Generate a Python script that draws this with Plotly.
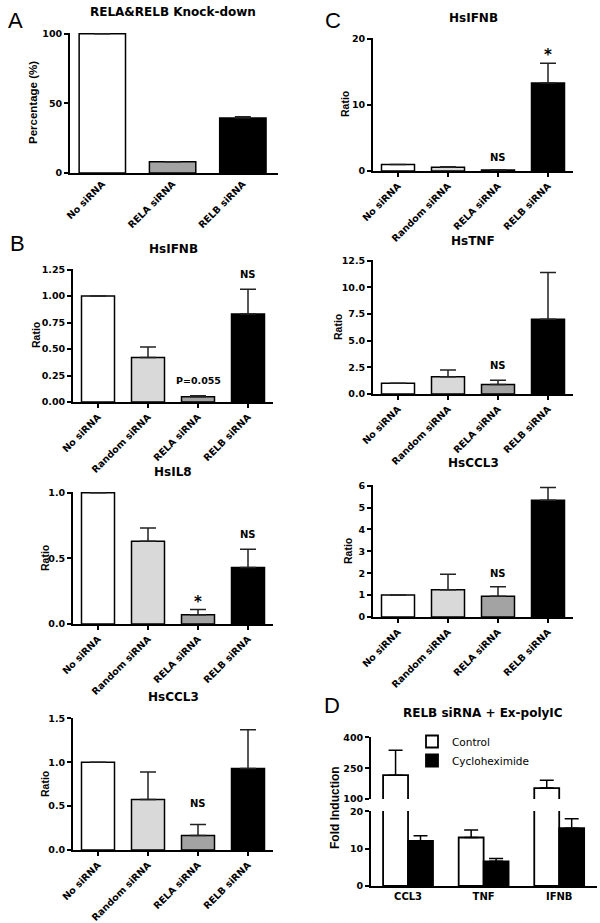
import plotly.graph_objects as go

W, H = 600, 923
FONT = "DejaVu Sans, Liberation Sans, Arial, sans-serif"
NARROW = "Liberation Sans, Arial, sans-serif"

# ---- data ----
kd_cats = ["No siRNA", "RELA siRNA", "RELB siRNA"]
kd_pct = [100, 8, 39.5]
kd_err = [None, None, 0.8]

sirna_cats = ["No siRNA", "Random siRNA", "RELA siRNA", "RELB siRNA"]

b_ifnb = [1.0, 0.42, 0.05, 0.83]
b_ifnb_err = [None, 0.10, 0.01, 0.235]
b_il8 = [1.0, 0.63, 0.07, 0.43]
b_il8_err = [None, 0.10, 0.04, 0.14]
b_ccl3 = [1.0, 0.575, 0.165, 0.93]
b_ccl3_err = [None, 0.315, 0.125, 0.44]

c_ifnb = [1.0, 0.55, 0.15, 13.3]
c_ifnb_err = [None, 0.08, 0.05, 3.0]
c_tnf = [1.0, 1.62, 0.9, 7.0]
c_tnf_err = [None, 0.63, 0.4, 4.4]
c_ccl3 = [1.0, 1.25, 0.95, 5.33]
c_ccl3_err = [None, 0.7, 0.43, 0.59]

d_genes = ["CCL3", "TNF", "IFNB"]
d_control = [216, 13, 153]
d_control_err = [121, 2, 38]
d_cyclo = [12.1, 6.6, 15.5]
d_cyclo_err = [1.4, 0.8, 2.5]

SIRNA_COLORS = ["white", "#d9d9d9", "#a3a3a3", "black"]
KD_COLORS = ["white", "#a3a3a3", "black"]


def dx(a, b):
    return [a / W, b / W]


def dy(top, bottom):
    return [1 - bottom / H, 1 - top / H]


fig = go.Figure()
layout = dict(
    width=W, height=H, margin=dict(l=0, r=0, t=0, b=0, pad=0, autoexpand=False),
    paper_bgcolor="white", plot_bgcolor="white", template="none",
    font=dict(family=FONT, color="black"),
    barmode="group", showlegend=True, bargap=0.34,
    annotations=[],
)


def err(tops):
    return dict(type="data", symmetric=False,
                array=tops,
                arrayminus=[0 if e is not None else None for e in tops],
                color="#222", thickness=1.5, width=8)


def add_panel(n, cats, vals, errs, colors, xpx, ypx, yrange, tickvals, ticktext,
              title, title_xy, xticks=True):
    xa, ya = ("x" if n == 1 else f"x{n}"), ("y" if n == 1 else f"y{n}")
    fig.add_trace(go.Bar(
        x=cats, y=vals, xaxis=xa, yaxis=ya, showlegend=False,
        marker=dict(color=colors, line=dict(color="black", width=1.5)),
        error_y=err(errs),
    ))
    key = "" if n == 1 else str(n)
    layout["xaxis" + key] = dict(
        domain=dx(*xpx), anchor=ya, type="category", range=[-0.5, len(cats) - 0.5],
        showline=True, linecolor="black", linewidth=1.8, showgrid=False, automargin=False,
        ticks="outside" if xticks else "", ticklen=4, tickwidth=1.5, tickcolor="black",
        tickangle=-45, tickfont=dict(size=9.5, weight="bold"),
    )
    layout["yaxis" + key] = dict(
        domain=dy(*ypx), anchor=xa, range=yrange, showline=True, linecolor="black",
        linewidth=1.8, showgrid=False, zeroline=False, ticks="outside", ticklen=4,
        tickwidth=1.5, tickcolor="black", tickvals=tickvals, ticktext=ticktext,
        tickfont=dict(size=9.5, weight="bold"), automargin=False,
    )
    paper_text(title, title_xy[0], title_xy[1], 12, bold=True)


def note(n, x, y, text, size=10):
    xa, ya = ("x" if n == 1 else f"x{n}"), ("y" if n == 1 else f"y{n}")
    layout["annotations"].append(dict(
        text=text, x=x, y=y, xref=xa, yref=ya, showarrow=False,
        font=dict(size=size, weight="bold"), yanchor="middle",
    ))


def paper_text(text, x, y, size, bold=False, angle=0, family=FONT):
    layout["annotations"].append(dict(
        text=text, x=x / W, y=1 - y / H, xref="paper", yref="paper", showarrow=False,
        textangle=angle, font=dict(size=size, family=family,
                                   weight="bold" if bold else "normal"),
        xanchor="center", yanchor="middle",
    ))


# A
add_panel(1, kd_cats, kd_pct, kd_err, KD_COLORS, (70, 278), (33, 173), [0, 100.5],
          [0, 50, 100], ["0", "50", "100"], "RELA&RELB Knock-down", (173, 12), xticks=False)
layout["xaxis"]["range"] = [-0.46, 2.5]
paper_text("Percentage (%)", 33, 103, 11.5, bold=True, angle=-90, family=NARROW)

# B
add_panel(2, sirna_cats, b_ifnb, b_ifnb_err, SIRNA_COLORS, (73, 273), (269, 402), [0, 1.255],
          [0, 0.25, 0.5, 0.75, 1.0, 1.25], ["0.00", "0.25", "0.50", "0.75", "1.00", "1.25"],
          "HsIFNB", (173, 249))
note(2, "RELB siRNA", 1.2, "NS")
note(2, "RELA siRNA", 0.2, "P=0.055", size=9.5)
paper_text("Ratio", 36, 335, 10.5, bold=True, angle=-90, family=NARROW)

add_panel(3, sirna_cats, b_il8, b_il8_err, SIRNA_COLORS, (73, 273), (492, 624), [0, 1.005],
          [0, 0.5, 1.0], ["0.0", "0.5", "1.0"], "HsIL8", (173, 472))
note(3, "RELA siRNA", 0.17, "*", size=15)
note(3, "RELB siRNA", 0.68, "NS")
paper_text("Ratio", 45, 558, 10.5, bold=True, angle=-90, family=NARROW)

add_panel(4, sirna_cats, b_ccl3, b_ccl3_err, SIRNA_COLORS, (73, 273), (718, 850), [0, 1.505],
          [0, 0.5, 1.0, 1.5], ["0.0", "0.5", "1.0", "1.5"], "HsCCL3", (173, 697))
note(4, "RELA siRNA", 0.53, "NS")
note(4, "RELB siRNA", 1.58, "NS")
paper_text("Ratio", 45, 784, 10.5, bold=True, angle=-90, family=NARROW)

# C
add_panel(5, sirna_cats, c_ifnb, c_ifnb_err, SIRNA_COLORS, (373, 573), (38, 171), [0, 20.1],
          [0, 10, 20], ["0", "10", "20"], "HsIFNB", (473, 18))
note(5, "RELB siRNA", 17.5, "*", size=15)
note(5, "RELA siRNA", 2.1, "NS")
paper_text("Ratio", 345, 104, 10.5, bold=True, angle=-90, family=NARROW)

add_panel(6, sirna_cats, c_tnf, c_tnf_err, SIRNA_COLORS, (373, 573), (260, 394), [0, 12.56],
          [0, 2.5, 5, 7.5, 10, 12.5], ["0.0", "2.5", "5.0", "7.5", "10.0", "12.5"],
          "HsTNF", (473, 241))
note(6, "RELA siRNA", 2.7, "NS")
note(6, "RELB siRNA", 12.8, "NS")
paper_text("Ratio", 338, 327, 10.5, bold=True, angle=-90, family=NARROW)

add_panel(7, sirna_cats, c_ccl3, c_ccl3_err, SIRNA_COLORS, (373, 573), (485, 617), [0, 6.03],
          [0, 1, 2, 3, 4, 5, 6], [str(i) for i in range(7)], "HsCCL3", (473, 463))
note(7, "RELB siRNA", 6.3, "*", size=15)
note(7, "RELA siRNA", 2.0, "NS")
paper_text("Ratio", 348, 551, 10.5, bold=True, angle=-90, family=NARROW)

# D (broken y axis: lower 0-20, upper 100-400)
for xa, ya, show in (("x8", "y8", True), ("x9", "y9", False)):
    fig.add_trace(go.Bar(
        x=d_genes, y=d_control, xaxis=xa, yaxis=ya, name="Control", showlegend=show,
        marker=dict(color="white", line=dict(color="black", width=1.8)),
        error_y=dict(type="data", symmetric=False, array=d_control_err, arrayminus=[0, 0, 0],
                     color="black", thickness=1.5, width=7),
        offsetgroup="c",
    ))
    fig.add_trace(go.Bar(
        x=d_genes, y=d_cyclo, xaxis=xa, yaxis=ya, name="Cycloheximide", showlegend=show,
        marker=dict(color="black", line=dict(color="black", width=1.8)),
        error_y=dict(type="data", symmetric=False, array=d_cyclo_err, arrayminus=[0, 0, 0],
                     color="black", thickness=1.5, width=7),
        offsetgroup="k",
    ))

dax = dict(domain=dx(371, 597), type="category", range=[-0.49, 2.5], showgrid=False,
           showline=True, linecolor="black", linewidth=1.8, ticks="", automargin=False,
           tickfont=dict(size=10, weight="bold"))
layout["xaxis8"] = dict(dax, anchor="y8")
layout["xaxis9"] = dict(dax, anchor="y9", visible=False, matches="x8")
dyx = dict(showline=True, linecolor="black", linewidth=1.8, showgrid=False, zeroline=False,
           ticks="outside", ticklen=4, tickwidth=1.5, tickcolor="black", automargin=False,
           tickfont=dict(size=9.5, weight="bold"))
layout["yaxis8"] = dict(dyx, domain=dy(811, 886), anchor="x8", range=[0, 20.1],
                        tickvals=[0, 10, 20])
layout["yaxis9"] = dict(dyx, domain=dy(737, 799), anchor="x9", range=[100, 402],
                        tickvals=[100, 250, 400])
paper_text("RELB siRNA + Ex-polyIC", 483, 713, 12, bold=True)
paper_text("Fold Induction", 335, 808, 12, bold=True, angle=-90, family=NARROW)

layout["legend"] = dict(x=412 / W, y=1 - 727 / H, xanchor="left", yanchor="top",
                        font=dict(size=10.5), bgcolor="rgba(0,0,0,0)", tracegroupgap=0,
                        itemwidth=30)

# panel letters
paper_text("A", 15, 20, 22, family=NARROW)
paper_text("B", 17, 243, 22, family=NARROW)
paper_text("C", 333, 20, 22, family=NARROW)
paper_text("D", 332, 705, 22, family=NARROW)

fig.update_layout(**layout)
# drop the default body margin so the 600x923 figure fills the window exactly
fig.write_html("out.html", config={"displayModeBar": False},
               post_script="document.body.style.margin='0';")
